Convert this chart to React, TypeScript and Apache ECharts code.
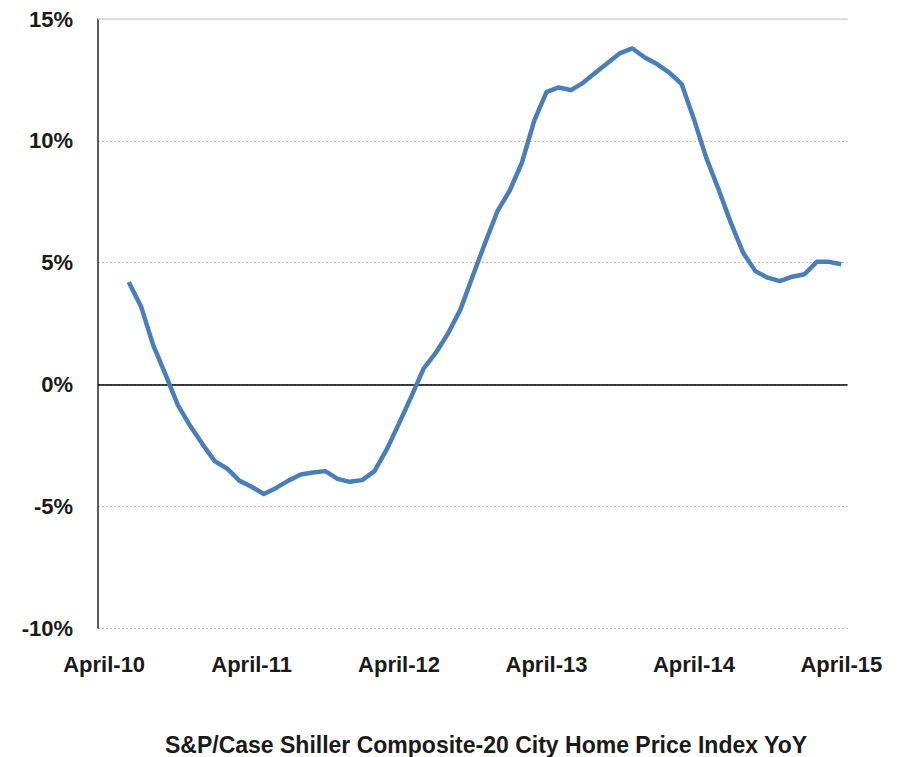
import React, { useEffect, useRef } from "react";
import * as echarts from "echarts";

const monthNames = ["January", "February", "March", "April", "May", "June", "July", "August", "September", "October", "November", "December"];
// Axis categories: April-10 ... April-15 (monthly)
const categories: string[] = [];
for (let y = 10; y <= 15; y++) {
  for (let m = 0; m < 12; m++) {
    if ((y === 10 && m < 3) || (y === 15 && m > 3)) continue;
    categories.push(`${monthNames[m]}-${y}`);
  }
}

// Data months: June-10 ... April-15
const dataStart = "June-10";

// S&P/Case-Shiller Composite-20 YoY (%)
const yoy = [
  4.2, 3.2, 1.6, 0.4, -0.85, -1.7, -2.45,
  -3.15, -3.45, -3.95, -4.2, -4.5, -4.25, -3.95, -3.7, -3.62, -3.56, -3.88, -4.0,
  -3.93, -3.56, -2.67, -1.6, -0.5, 0.65, 1.3, 2.1, 3.08, 4.45, 5.8, 7.1,
  7.95, 9.1, 10.82, 12.0, 12.19, 12.08, 12.39, 12.8, 13.2, 13.6, 13.79, 13.42,
  13.15, 12.8, 12.33, 10.89, 9.31, 8.01, 6.64, 5.41, 4.65, 4.38, 4.24, 4.42,
  4.52, 5.03, 5.03, 4.93,
];

const yTicks = { min: -10, max: 15, interval: 5 };
const title = "S&P/Case Shiller Composite-20 City Home Price Index YoY";

export default function App() {
  const ref = useRef<HTMLDivElement>(null);
  useEffect(() => {
    if (!ref.current) return;
    const chart = echarts.init(ref.current, null, { renderer: "svg" });
    const startIdx = categories.indexOf(dataStart);
    const data = yoy.map((v, i) => [categories[startIdx + i], v]);
    const font = "'Liberation Sans', Arial, sans-serif";
    chart.setOption({
      animation: false,
      backgroundColor: "#ffffff",
      grid: { left: 98, right: 57.5, top: 19, bottom: 129, containLabel: false },
      xAxis: {
        type: "category",
        data: categories,
        boundaryGap: true,
        axisLine: { show: false },
        axisTick: { show: false },
        splitLine: { show: false },
        axisLabel: {
          interval: (idx: number) => idx % 12 === 0,
          margin: 25,
          fontFamily: font,
          fontWeight: "bold",
          fontSize: 22,
          color: "#1a1a1a",
        },
      },
      yAxis: {
        type: "value",
        min: yTicks.min,
        max: yTicks.max,
        interval: yTicks.interval,
        axisLine: { show: true, lineStyle: { color: "#262626", width: 1.5 } },
        axisTick: { show: false },
        axisLabel: {
          formatter: (v: number) => `${v}%`,
          margin: 25,
          fontFamily: font,
          fontWeight: "bold",
          fontSize: 22,
          color: "#1a1a1a",
        },
        splitLine: { show: true, lineStyle: { color: "#bdbdbd", type: [2, 2], width: 1 } },
      },
      series: [
        {
          type: "line",
          data,
          showSymbol: false,
          symbol: "none",
          lineStyle: { color: "#4a7ebb", width: 4.5, cap: "butt", join: "round" },
          z: 5,
          markLine: {
            silent: true,
            symbol: "none",
            label: { show: false },
            z: 1,
            data: [
              { yAxis: 0, lineStyle: { color: "#000000", width: 1.5, type: "solid" } },
              { yAxis: 15, lineStyle: { color: "#d9d9d9", width: 1.5, type: "solid" } },
            ],
          },
        },
      ],
      graphic: [
        {
          type: "text",
          x: 486,
          y: 745,
          style: {
            text: title,
            fontFamily: font,
            fontWeight: "bold",
            fontSize: 23,
            fill: "#1a1a1a",
            textAlign: "center",
            textVerticalAlign: "middle",
          },
        },
      ],
    });
    return () => chart.dispose();
  }, []);
  return (
    <div
      ref={ref}
      style={{ position: "fixed", left: 0, top: 0, width: 905, height: 757 }}
    />
  );
}
